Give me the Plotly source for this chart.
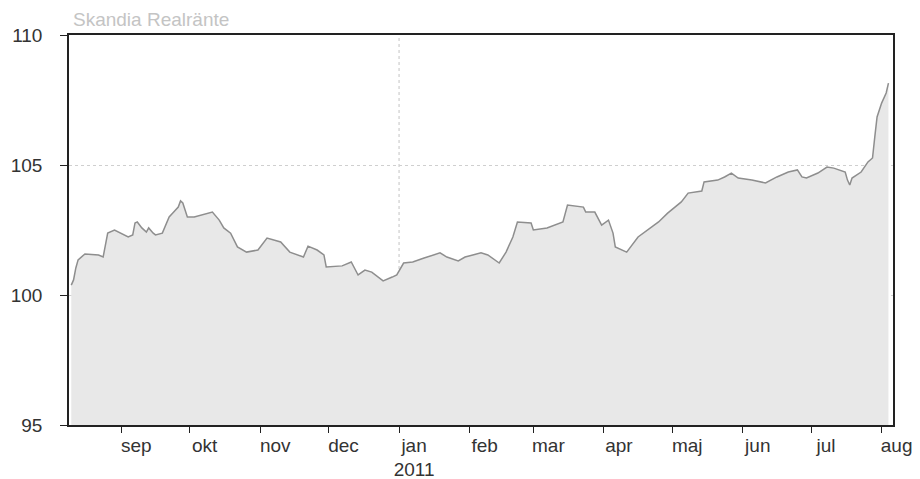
import plotly.graph_objects as go

title_text = "Skandia Realränte"

dates = [
    "2010-08-10", "2010-08-11", "2010-08-12", "2010-08-13", "2010-08-16", "2010-08-22",
    "2010-08-24", "2010-08-25", "2010-08-26", "2010-08-29", "2010-08-31", "2010-09-04",
    "2010-09-06", "2010-09-07", "2010-09-08", "2010-09-10", "2010-09-12", "2010-09-13",
    "2010-09-15", "2010-09-16", "2010-09-19", "2010-09-20", "2010-09-22", "2010-09-24",
    "2010-09-26", "2010-09-27", "2010-09-28", "2010-09-29", "2010-09-30", "2010-10-03",
    "2010-10-06", "2010-10-09", "2010-10-11", "2010-10-14", "2010-10-16", "2010-10-19",
    "2010-10-22", "2010-10-26", "2010-10-31", "2010-11-04", "2010-11-10", "2010-11-14",
    "2010-11-20", "2010-11-22", "2010-11-26", "2010-11-29", "2010-11-30", "2010-12-07",
    "2010-12-11", "2010-12-14", "2010-12-17", "2010-12-20", "2010-12-25", "2010-12-29",
    "2010-12-31", "2011-01-03", "2011-01-07", "2011-01-12", "2011-01-19", "2011-01-22",
    "2011-01-27", "2011-01-30", "2011-02-06", "2011-02-09", "2011-02-14", "2011-02-17",
    "2011-02-20", "2011-02-22", "2011-02-28", "2011-03-01", "2011-03-07", "2011-03-14",
    "2011-03-16", "2011-03-23", "2011-03-24", "2011-03-28", "2011-03-31", "2011-04-03",
    "2011-04-05", "2011-04-06", "2011-04-11", "2011-04-16", "2011-04-25", "2011-04-29",
    "2011-05-05", "2011-05-08", "2011-05-14", "2011-05-15", "2011-05-21", "2011-05-24",
    "2011-05-27", "2011-05-30", "2011-06-05", "2011-06-11", "2011-06-16", "2011-06-21",
    "2011-06-25", "2011-06-27", "2011-06-29", "2011-07-04", "2011-07-08", "2011-07-11",
    "2011-07-16", "2011-07-17", "2011-07-18", "2011-07-19", "2011-07-23", "2011-07-26",
    "2011-07-28", "2011-07-29", "2011-07-30", "2011-08-01", "2011-08-03", "2011-08-04",
]

values = [
    100.38, 100.58, 101.04, 101.35, 101.58, 101.54,
    101.46, 101.92, 102.38, 102.50, 102.42, 102.23,
    102.31, 102.77, 102.81, 102.58, 102.42, 102.58,
    102.38, 102.31, 102.38, 102.58, 103.00, 103.19,
    103.38, 103.62, 103.54, 103.27, 103.00, 103.00,
    103.08, 103.15, 103.19, 102.88, 102.58, 102.38,
    101.85, 101.65, 101.73, 102.19, 102.04, 101.65,
    101.46, 101.88, 101.73, 101.54, 101.08, 101.12,
    101.27, 100.77, 100.96, 100.88, 100.54, 100.69,
    100.77, 101.23, 101.27, 101.42, 101.62, 101.46,
    101.31, 101.46, 101.62, 101.54, 101.23, 101.65,
    102.23, 102.81, 102.77, 102.50, 102.58, 102.81,
    103.46, 103.38, 103.19, 103.19, 102.69, 102.88,
    102.38, 101.85, 101.65, 102.23, 102.81, 103.15,
    103.58, 103.92, 104.00, 104.35, 104.42, 104.54,
    104.69, 104.50, 104.42, 104.31, 104.54, 104.73,
    104.81, 104.54, 104.50, 104.69, 104.92, 104.88,
    104.73, 104.42, 104.23, 104.50, 104.73, 105.12,
    105.27, 106.08, 106.85, 107.38, 107.77, 108.15,
]

month_ticks = ["2010-09-01", "2010-10-01", "2010-11-01", "2010-12-01", "2011-01-01",
               "2011-02-01", "2011-03-01", "2011-04-01", "2011-05-01", "2011-06-01",
               "2011-07-01", "2011-08-01"]
month_labels = ["sep", "okt", "nov", "dec", "jan<br>2011", "feb", "mar", "apr",
                "maj", "jun", "jul", "aug"]
y_ticks = [95, 100, 105, 110]
x_range = ["2010-08-09", "2011-08-06"]
y_range = [95, 110]
year_marks = ["2011-01-01"]

font_family = "Liberation Sans, Arial, sans-serif"

fig = go.Figure()
fig.add_trace(go.Scatter(
    x=dates, y=values, mode="lines",
    line=dict(color="#8e8e8e", width=1.5),
    fill="tozeroy", fillcolor="#e8e8e8",
    hoverinfo="x+y", showlegend=False,
))

for ym in year_marks:
    fig.add_shape(type="line", xref="x", yref="paper", x0=ym, x1=ym, y0=0, y1=1,
                  line=dict(color="#c4c4c4", width=1, dash="dot"), layer="below")

fig.add_annotation(text=title_text, xref="paper", yref="paper", x=0.003, y=1.040,
                   xanchor="left", yanchor="middle", showarrow=False,
                   font=dict(family=font_family, size=19, color="#c4c4c4"))

fig.update_layout(
    width=920, height=479,
    margin=dict(l=61, r=35, t=27, b=62, autoexpand=False),
    paper_bgcolor="white", plot_bgcolor="white",
    font=dict(family=font_family, size=19, color="#333333"),
)
fig.update_xaxes(
    type="date", range=x_range, automargin=False,
    tickmode="array", tickvals=month_ticks, ticktext=month_labels,
    ticks="outside", ticklen=6, tickcolor="#222222", tickwidth=1,
    ticklabelshift=15, ticklabelstandoff=-4,
    showline=True, linecolor="#222222", linewidth=1.5, mirror=True,
    showgrid=False, zeroline=False,
)
fig.update_yaxes(
    range=y_range, tickmode="array", tickvals=y_ticks, automargin=False,
    ticks="outside", ticklen=7, tickcolor="#222222", tickwidth=1,
    ticklabelstandoff=14,
    showline=True, linecolor="#222222", linewidth=1.5, mirror=True,
    showgrid=True, gridcolor="#cfcfcf", griddash="dot", gridwidth=1,
    zeroline=False,
)

fig.write_html("out.html")
